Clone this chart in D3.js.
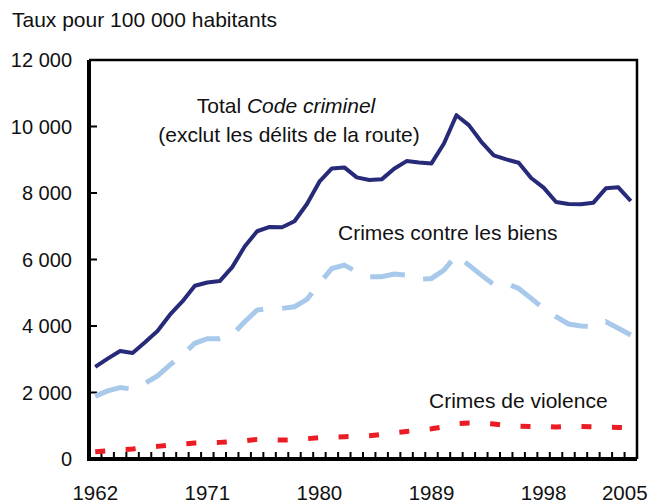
<!DOCTYPE html>
<meta charset="utf-8">
<script src="https://d3js.org/d3.v7.min.js"></script>
<style>
  body { margin: 0; background: #fff; }
  text { font-family: "Liberation Sans", Arial, Helvetica, sans-serif; fill: #111; }
</style>
<div id="my_dataviz"></div>
<script>

    // years 1962 to 2005
    var years = [1962,1963,1964,1965,1966,1967,1968,1969,1970,1971,1972,1973,1974,1975,1976,
        1977,1978,1979,1980,1981,1982,1983,1984,1985,1986,1987,1988,1989,1990,1991,1992,
        1993,1994,1995,1996,1997,1998,1999,2000,2001,2002,2003,2004,2005];

    // rates per 100 000 population
    var totalCode = [2770,3020,3250,3190,3510,3850,4340,4740,5210,5310,5350,5770,6390,6850,6980,
        6970,7150,7670,8340,8740,8770,8470,8390,8410,8730,8960,8920,8890,9490,10340,10040,
        9540,9130,9010,8910,8450,8160,7730,7670,7660,7710,8140,8170,7760];

    var property = [1890,2050,2150,2100,2280,2500,2830,3130,3480,3620,3620,3730,4130,4480,4530,
        4530,4580,4800,5280,5730,5830,5630,5480,5480,5560,5530,5400,5430,5680,6130,5830,
        5530,5250,5280,5130,4830,4530,4280,4060,4000,3980,4130,3930,3730];

    var violent = [220,250,280,300,350,380,420,450,480,490,500,520,550,590,580,
        570,580,610,640,650,670,680,700,740,790,830,870,910,970,1060,1080,
        1080,1050,1010,990,980,980,960,980,980,970,960,950,940];

    var yTicks = [0,2000,4000,6000,8000,10000,12000];
    var xLabels = [1962,1971,1980,1989,1998,2005];

    var W = 650, H = 504;
    var margin = {left: 89, right: 13, top: 60, bottom: 45};

    var svg = d3.select("#my_dataviz")
        .append("svg")
        .attr("width", W)
        .attr("height", H);

    var x = d3.scaleBand()
        .domain(years)
        .range([margin.left, W - margin.right]);

    var y = d3.scaleLinear()
        .domain([0, 12000])
        .range([H - margin.bottom, margin.top]);

    var cx = function(d, i) { return x(years[i]) + x.bandwidth() / 2; };
    var fmt = function(v) { return d3.format(",")(v).replace(",", " "); };

    // frame top and right
    svg.append("path")
        .attr("d", "M" + margin.left + "," + y(12000) + "H" + (W - margin.right) + "V" + y(0))
        .attr("fill", "none")
        .attr("stroke", "#000")
        .attr("stroke-width", 2.5);

    // y ticks, pointing inside
    svg.append("g").selectAll("line")
        .data(yTicks)
        .enter().append("line")
        .attr("x1", margin.left).attr("x2", margin.left + 8)
        .attr("y1", function(d) { return y(d); })
        .attr("y2", function(d) { return y(d); })
        .attr("stroke", "#000").attr("stroke-width", 2);

    svg.append("g").selectAll("text")
        .data(yTicks)
        .enter().append("text")
        .attr("x", 72)
        .attr("y", function(d) { return y(d); })
        .attr("dy", "0.35em")
        .attr("text-anchor", "end")
        .style("font-size", "20px")
        .text(function(d) { return fmt(d); });

    // x ticks at category boundaries
    svg.append("g").selectAll("line")
        .data(years.slice(1))
        .enter().append("line")
        .attr("x1", function(d) { return x(d); })
        .attr("x2", function(d) { return x(d); })
        .attr("y1", y(0)).attr("y2", y(0) - 7)
        .attr("stroke", "#000").attr("stroke-width", 2);

    svg.append("g").selectAll("text")
        .data(xLabels)
        .enter().append("text")
        .attr("x", function(d) { return x(d) + x.bandwidth() / 2 - (d === 2005 ? 6 : 0); })
        .attr("y", 500)
        .attr("text-anchor", "middle")
        .style("font-size", "20.5px")
        .text(function(d) { return d; });

    // axes lines
    svg.append("path")
        .attr("d", "M" + margin.left + "," + y(12000) + "V" + y(0) + "H" + (W - margin.right))
        .attr("fill", "none")
        .attr("stroke", "#000")
        .attr("stroke-width", 4);

    var line = function(vals) {
        return d3.line()
            .x(function(d, i) { return cx(d, i); })
            .y(function(d) { return y(d); })(vals);
    };

    svg.append("path")
        .attr("d", line(property))
        .attr("fill", "none")
        .attr("stroke", "#a8c9ea")
        .attr("stroke-width", 5)
        .attr("stroke-dasharray", "35,19");

    svg.append("path")
        .attr("d", line(violent))
        .attr("fill", "none")
        .attr("stroke", "#ec1c24")
        .attr("stroke-width", 5)
        .attr("stroke-dasharray", "10,20.5");

    svg.append("path")
        .attr("d", line(totalCode))
        .attr("fill", "none")
        .attr("stroke", "#272a78")
        .attr("stroke-width", 4)
        .attr("stroke-linejoin", "round");

    // title
    svg.append("text")
        .attr("x", 12).attr("y", 27)
        .style("font-size", "21px")
        .text("Taux pour 100 000 habitants");

    // annotations
    var t1 = svg.append("text")
        .attr("x", 286).attr("y", 113)
        .attr("text-anchor", "middle")
        .style("font-size", "21px");
    t1.append("tspan").text("Total ");
    t1.append("tspan").style("font-style", "italic").text("Code criminel");

    svg.append("text")
        .attr("x", 289).attr("y", 142)
        .attr("text-anchor", "middle")
        .style("font-size", "21px")
        .text("(exclut les délits de la route)");

    svg.append("text")
        .attr("x", 338).attr("y", 240)
        .style("font-size", "21px")
        .text("Crimes contre les biens");

    svg.append("text")
        .attr("x", 429).attr("y", 408)
        .style("font-size", "21px")
        .text("Crimes de violence");

</script>
